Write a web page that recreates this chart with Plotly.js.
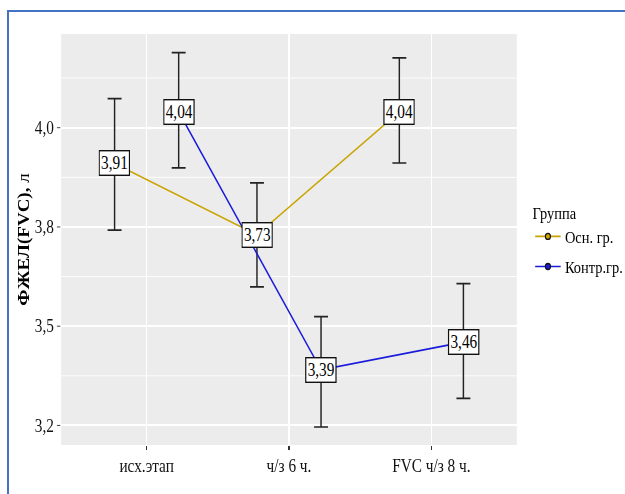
<!DOCTYPE html>
<html>
<head>
<meta charset="utf-8">
<script src="https://cdn.plot.ly/plotly-3.0.1.min.js"></script>
<style>
  html, body { margin: 0; padding: 0; background: #ffffff; overflow: hidden; width: 625px; height: 494px; }
  #chart { position: absolute; left: 0; top: 0; width: 735px; height: 494px; transform: scaleX(0.85); transform-origin: 0 0; }
  #frame { position: absolute; left: 7px; top: 10px; right: -10px; bottom: -10px;
           border-left: 2px solid #4472C4; border-top: 2px solid #4472C4; pointer-events: none; }
</style>
</head>
<body>
<div id="chart"></div>
<div id="frame"></div>
<script>
// Stages of observation
const categories = ['исх.этап', 'ч/з 6 ч.', 'FVC ч/з 8 ч.'];
const groupNames = ['Осн. гр.', 'Контр.гр.'];

// Main group: mean FVC and interval bounds, litres
const mainMean  = [3.91, 3.73, 4.04];
const mainUpper = [4.073, 3.861, 4.176];
const mainLower = [3.742, 3.599, 3.911];

// Control group: mean FVC and interval bounds, litres
const ctrlMean  = [4.04, 3.39, 3.46];
const ctrlUpper = [4.189, 3.524, 3.607];
const ctrlLower = [3.899, 3.246, 3.318];

// Y axis ticks
const yTickVals  = [3.25, 3.5, 3.75, 4.0];
const yTickText  = ['3,2', '3,5', '3,8', '4,0'];
const yMinorVals = [3.375, 3.625, 3.875, 4.125];

const groupColors = ['#C9A400', '#1A1ADB'];
const dodge = 0.225;
const serif = 'Liberation Serif, Times New Roman, serif';

const fmt = v => v.toFixed(2).replace('.', ',');

const groups = [
  { name: groupNames[0], mean: mainMean, upper: mainUpper, lower: mainLower, shift: -dodge, color: groupColors[0] },
  { name: groupNames[1], mean: ctrlMean, upper: ctrlUpper, lower: ctrlLower, shift: dodge,  color: groupColors[1] }
];

const traces = groups.map((g, gi) => {
  const xs = categories.map((c, i) => i + g.shift);
  return {
    type: 'scatter',
    mode: 'lines+markers',
    name: g.name,
    legendgroup: 'g' + gi,
    x: xs,
    y: g.mean,
    line: { color: g.color, width: 1.7 },
    marker: { size: 6, color: g.color, line: { color: '#111111', width: 1.3 } },
    error_y: {
      type: 'data',
      symmetric: false,
      array: g.upper.map((u, i) => u - g.mean[i]),
      arrayminus: g.lower.map((l, i) => g.mean[i] - l),
      color: '#222222',
      thickness: 1.7,
      width: 8.2
    },
    hoverinfo: 'skip'
  };
});

// value labels in boxes on every point
const annotations = [];
groups.forEach(g => {
  g.mean.forEach((v, i) => {
    annotations.push({
      x: i + g.shift, y: v, xref: 'x', yref: 'y',
      text: fmt(v), showarrow: false,
      font: { family: serif, size: 18, color: '#000000' },
      bgcolor: '#ffffff', bordercolor: '#111111', borderwidth: 1.4, borderpad: 1.5
    });
  });
});

const layout = {
  width: 735, height: 494,
  margin: { l: 72, r: 127, t: 34, b: 49, autoexpand: false },
  paper_bgcolor: 'rgba(0,0,0,0)',
  plot_bgcolor: '#ECECEC',
  font: { family: serif, color: '#111111' },
  showlegend: true,
  legend: {
    x: 1.031, xanchor: 'left', y: 0.604, yanchor: 'top',
    bgcolor: 'rgba(0,0,0,0)',
    traceorder: 'grouped', tracegroupgap: 5,
    font: { family: serif, size: 17, color: '#000000' },
    title: { text: 'Группа', font: { family: serif, size: 17, color: '#000000' } }
  },
  xaxis: {
    range: [-0.6, 2.6],
    tickmode: 'array', tickvals: categories.map((c, i) => i), ticktext: categories,
    ticks: 'outside', ticklen: 4, tickwidth: 1.5, tickcolor: '#333333',
    tickfont: { family: serif, size: 18, color: '#111111' },
    showgrid: true, gridcolor: '#ffffff', gridwidth: 2,
    zeroline: false, showline: false, fixedrange: true
  },
  yaxis: {
    range: [3.2007, 4.236],
    tickmode: 'array', tickvals: yTickVals, ticktext: yTickText,
    ticks: 'outside', ticklen: 4, tickwidth: 1, tickcolor: '#333333',
    tickfont: { family: serif, size: 18, color: '#111111' },
    showgrid: true, gridcolor: '#ffffff', gridwidth: 2,
    minor: { tickmode: 'array', tickvals: yMinorVals, showgrid: true, gridcolor: '#ffffff', gridwidth: 1, ticks: '' },
    zeroline: false, showline: false, fixedrange: true,
    title: { text: '<b>ФЖЕЛ(FVC),</b> л', font: { family: serif, size: 19, color: '#000000' }, standoff: 1 }
  },
  annotations: annotations
};

Plotly.newPlot('chart', traces, layout, { displayModeBar: false, staticPlot: true });
</script>
</body>
</html>
